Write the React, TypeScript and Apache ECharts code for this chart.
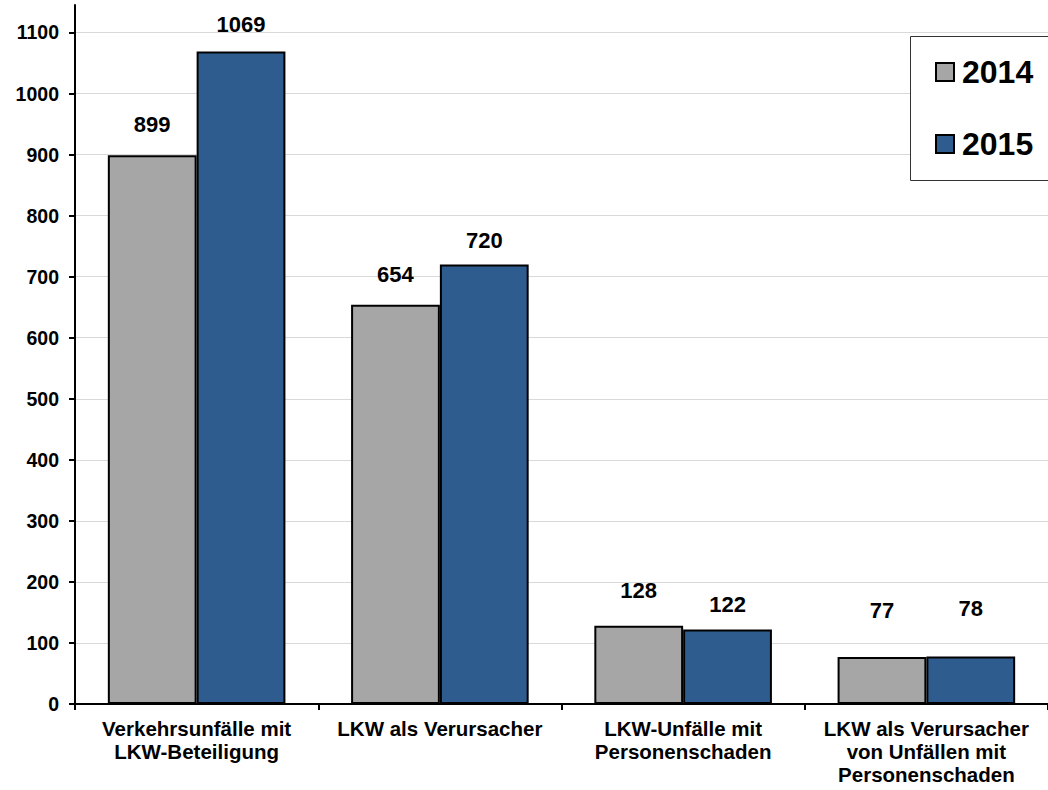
import React, { useEffect, useRef } from "react";
import * as echarts from "echarts";

const categories = [
  "Verkehrsunfälle mit\nLKW-Beteiligung",
  "LKW als Verursacher",
  "LKW-Unfälle mit\nPersonenschaden",
  "LKW als Verursacher\nvon Unfällen mit\nPersonenschaden",
];
const values2014 = [899, 654, 128, 77];
const values2015 = [1069, 720, 122, 78];
const yTicks = [0, 100, 200, 300, 400, 500, 600, 700, 800, 900, 1000, 1100];

// label distances above bars (styling only)
const lift2014 = [20, 19, 24, 35];
const lift2015 = [16, 13, 14, 37];

const FONT = "Arial, 'Liberation Sans', sans-serif";

export default function App() {
  const ref = useRef<HTMLDivElement>(null);
  useEffect(() => {
    document.body.style.margin = "0";
    const chart = echarts.init(ref.current!, null, { renderer: "svg" });
    const splitColors = yTicks.map(() => "#d9d9d9").concat(["transparent"]);
    const mk = (name: string, vals: number[], lifts: number[], color: string) => ({
      name,
      type: "bar",
      barGap: "0%",
      barCategoryGap: "27%",
      itemStyle: { color, borderColor: "#000", borderWidth: 2 },
      label: {
        show: true,
        position: "top",
        fontFamily: FONT,
        fontSize: 22,
        fontWeight: "bold",
        color: "#000",
      },
      data: vals.map((v, i) => ({ value: v, label: { distance: lifts[i] } })),
    });
    chart.setOption({
      animation: false,
      backgroundColor: "#fff",
      textStyle: { fontFamily: FONT },
      grid: { left: 75, top: 5, width: 981, height: 699, containLabel: false },
      graphic: [
        {
          type: "rect",
          z: 100,
          shape: { x: 910.5, y: 36.5, width: 200, height: 144 },
          style: { fill: "#fff", stroke: "#333", lineWidth: 1 },
        },
      ],
      legend: {
        orient: "vertical",
        left: 910,
        top: 36,
        z: 200,
        padding: [20, 20, 20, 25],
        itemGap: 40,
        itemWidth: 18,
        itemHeight: 18,
        icon: "rect",
        itemStyle: { borderColor: "#000", borderWidth: 2 },
        textStyle: {
          fontFamily: FONT,
          fontSize: 32,
          fontWeight: "bold",
          color: "#000",
          padding: [0, 0, 0, 3],
        },
        data: ["2014", "2015"],
      },
      xAxis: {
        type: "category",
        data: categories,
        axisLine: { show: true, lineStyle: { color: "#000", width: 2 } },
        axisTick: { show: true, length: 6, lineStyle: { color: "#000", width: 2 } },
        axisLabel: {
          interval: 0,
          margin: 13,
          fontFamily: FONT,
          fontSize: 20.5,
          fontWeight: "bold",
          color: "#000",
          lineHeight: 23,
          align: "center",
        },
      },
      yAxis: {
        type: "value",
        min: 0,
        max: 1145,
        interval: 100,
        axisLine: { show: true, lineStyle: { color: "#000", width: 2 } },
        axisTick: { show: true, length: 6, customValues: yTicks, lineStyle: { color: "#000", width: 2 } },
        axisLabel: {
          customValues: yTicks,
          margin: 16,
          fontFamily: FONT,
          fontSize: 19.5,
          fontWeight: "bold",
          color: "#000",
          formatter: (v: number) => (v % 100 === 0 ? String(v) : ""),
        },
        splitLine: { show: true, lineStyle: { color: splitColors, width: 1 } },
      },
      series: [
        mk("2014", values2014, lift2014, "#A6A6A6"),
        mk("2015", values2015, lift2015, "#2E5C8F"),
      ],
    });
    return () => chart.dispose();
  }, []);
  return <div ref={ref} style={{ width: 1048, height: 790 }} />;
}
